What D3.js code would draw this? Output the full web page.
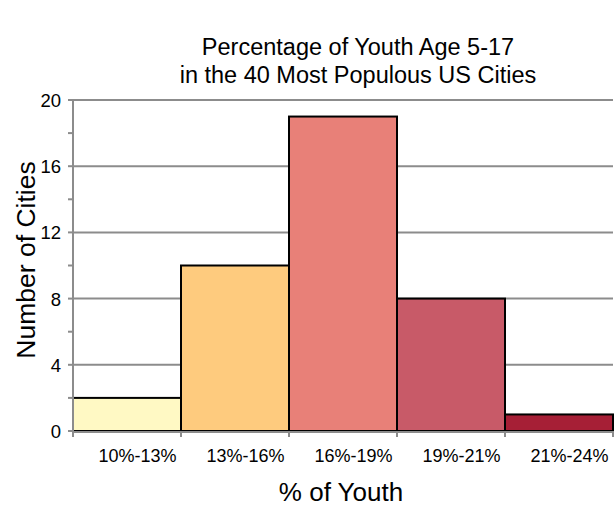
<!DOCTYPE html>
<html>
<head>
<meta charset="utf-8">
<script src="https://cdn.jsdelivr.net/npm/d3@7"></script>
<style>
  body { margin: 0; background: #fff; }
  text { font-family: "Liberation Sans", Arial, sans-serif; fill: #000; }
</style>
</head>
<body>
<script>
var bins = ["10%-13%", "13%-16%", "16%-19%", "19%-21%", "21%-24%"];
var counts = [2, 10, 19, 8, 1];
var colors = ["#fff9c4", "#fecb7e", "#e88078", "#c85a68", "#a61f36"];
var majorTicks = [0, 4, 8, 12, 16, 20];
var minorTicks = [2, 6, 10, 14, 18];
var titleLines = ["Percentage of Youth Age 5-17", "in the 40 Most Populous US Cities"];

function init() {
    var w = 614, h = 506;
    var left = 73, right = 613, top = 100, bottom = 431;

    var svg = d3.select("body").append("svg")
        .attr("width", w)
        .attr("height", h);

    var x = d3.scaleBand().domain(bins).range([left, right]).padding(0);
    var y = d3.scaleLinear().domain([0, 20]).range([bottom, top]);

    // gridlines
    svg.selectAll("line.grid")
        .data(majorTicks.slice(1))
        .enter().append("line")
        .attr("class", "grid")
        .attr("x1", left).attr("x2", right)
        .attr("y1", d => y(d)).attr("y2", d => y(d))
        .style("stroke", "#8c8c8c")
        .style("stroke-width", 2);

    // bars
    svg.selectAll("rect.bar")
        .data(counts)
        .enter().append("rect")
        .attr("class", "bar")
        .attr("x", (d, i) => x(bins[i]))
        .attr("y", d => y(d))
        .attr("width", x.bandwidth())
        .attr("height", d => bottom - y(d))
        .style("fill", (d, i) => colors[i])
        .style("stroke", "#000")
        .style("stroke-width", 2);

    // y axis line + ticks
    svg.append("line")
        .attr("x1", left).attr("x2", left)
        .attr("y1", top).attr("y2", bottom + 1)
        .style("stroke", "#8c8c8c").style("stroke-width", 2);
    svg.selectAll("line.ytick")
        .data(majorTicks.concat(minorTicks))
        .enter().append("line")
        .attr("x1", left - 5).attr("x2", left)
        .attr("y1", d => y(d)).attr("y2", d => y(d))
        .style("stroke", "#8c8c8c").style("stroke-width", 2);
    svg.selectAll("text.ylab")
        .data(majorTicks)
        .enter().append("text")
        .attr("x", 61)
        .attr("y", d => y(d) + 7)
        .attr("text-anchor", "end")
        .style("font-size", "18.5px")
        .text(d => d);

    // x axis line + ticks
    svg.append("line")
        .attr("x1", left).attr("x2", right)
        .attr("y1", bottom + 1).attr("y2", bottom + 1)
        .style("stroke", "#8c8c8c").style("stroke-width", 2);
    var edges = bins.map(b => x(b)).concat([right]);
    svg.selectAll("line.xtick")
        .data(edges)
        .enter().append("line")
        .attr("x1", d => d).attr("x2", d => d)
        .attr("y1", bottom).attr("y2", bottom + 6)
        .style("stroke", "#8c8c8c").style("stroke-width", 2);
    svg.selectAll("text.xlab")
        .data(bins)
        .enter().append("text")
        .attr("x", d => x(d) + x.bandwidth() / 2 + 10.5)
        .attr("y", 462)
        .attr("text-anchor", "middle")
        .style("font-size", "18px")
        .text(d => d);

    // axis titles
    svg.append("text")
        .attr("x", 341).attr("y", 501)
        .attr("text-anchor", "middle")
        .style("font-size", "26px")
        .text("% of Youth");
    svg.append("text")
        .attr("transform", "translate(35,260) rotate(-90)")
        .attr("text-anchor", "middle")
        .style("font-size", "26.5px")
        .text("Number of Cities");

    // title
    svg.selectAll("text.title")
        .data(titleLines)
        .enter().append("text")
        .attr("x", 358)
        .attr("y", (d, i) => 55 + i * 28)
        .attr("text-anchor", "middle")
        .style("font-size", "23.5px")
        .text(d => d);
}

window.onload = init;
</script>
</body>
</html>
